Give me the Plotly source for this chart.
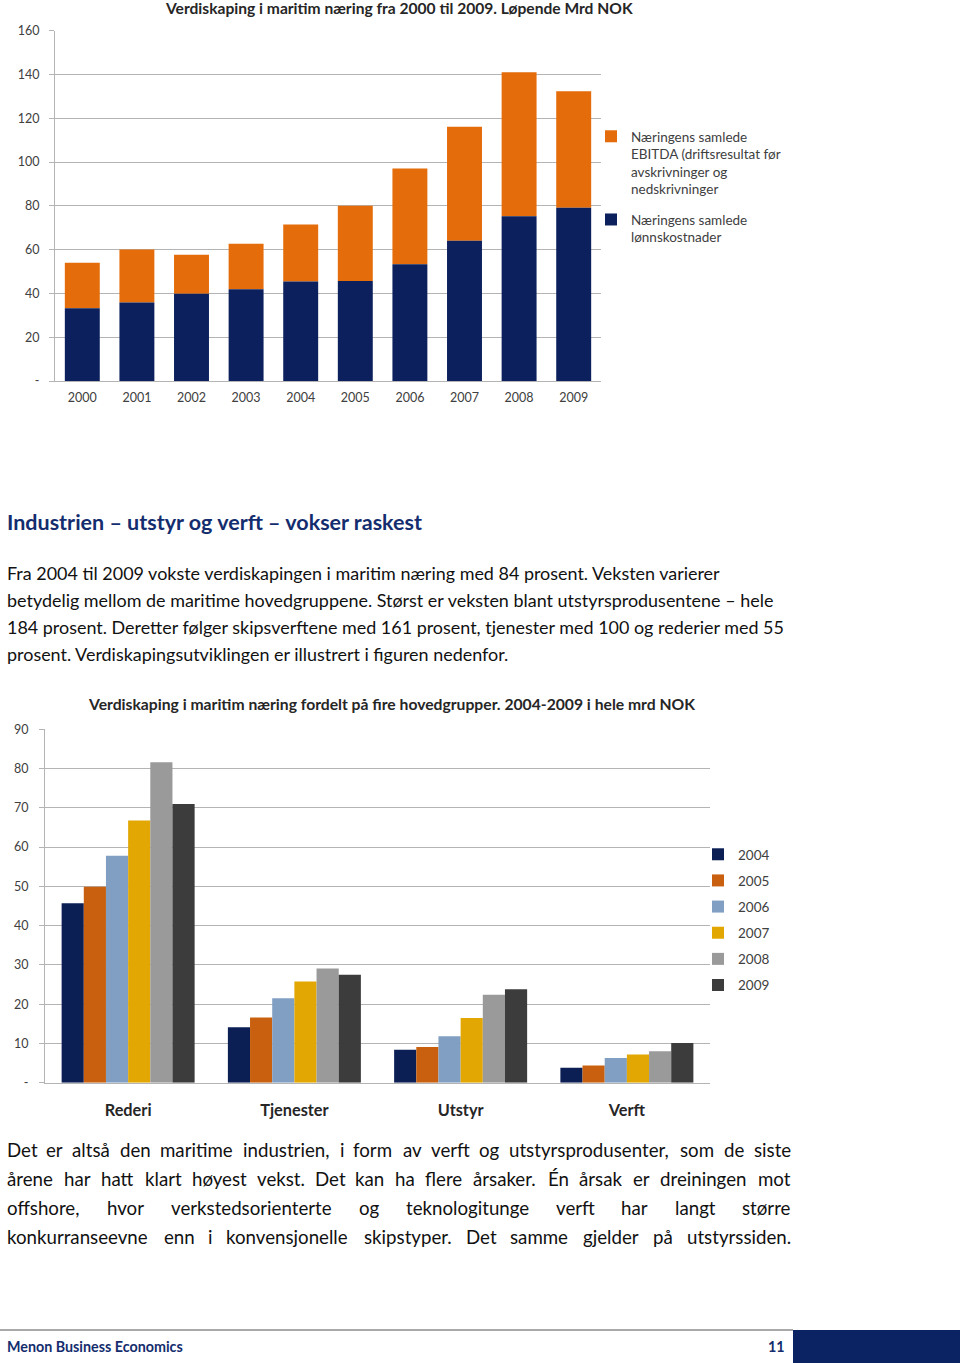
import plotly.graph_objects as go

W, H = 960, 1363
def px(x): return x / W
def py(y): return 1 - y / H

FONT = "Lato, 'Open Sans', sans-serif"

# ---------------- data: top chart ----------------
years = ["2000", "2001", "2002", "2003", "2004", "2005", "2006", "2007", "2008", "2009"]
lonnskostnader = [33.2, 35.8, 39.9, 41.9, 45.4, 45.7, 53.3, 64.1, 75.3, 79.1]
ebitda = [20.8, 24.3, 17.8, 20.8, 26.1, 34.4, 43.8, 52.0, 65.7, 53.2]
top_tickvals = [0, 20, 40, 60, 80, 100, 120, 140, 160]
top_ticktext = ["-", "20", "40", "60", "80", "100", "120", "140", "160"]
name_ebitda = "Næringens samlede<br>EBITDA (driftsresultat før<br>avskrivninger og<br>nedskrivninger"
name_lonn = "Næringens samlede<br>lønnskostnader"

# ---------------- data: bottom chart ----------------
groups = ["Rederi", "Tjenester", "Utstyr", "Verft"]
series_years = ["2004", "2005", "2006", "2007", "2008", "2009"]
v2004 = [45.7, 14.1, 8.4, 3.8]
v2005 = [49.9, 16.6, 9.1, 4.4]
v2006 = [57.8, 21.5, 11.8, 6.3]
v2007 = [66.8, 25.8, 16.5, 7.2]
v2008 = [81.6, 29.1, 22.4, 8.0]
v2009 = [71.0, 27.5, 23.8, 10.1]
bottom_series = [v2004, v2005, v2006, v2007, v2008, v2009]
bot_tickvals = [0, 10, 20, 30, 40, 50, 60, 70, 80, 90]
bot_ticktext = ["-", "10", "20", "30", "40", "50", "60", "70", "80", "90"]

# ---------------- page text ----------------
heading = "Industrien – utstyr og verft – vokser raskest"
para1 = ["Fra 2004 til 2009 vokste verdiskapingen i maritim næring med 84 prosent. Veksten varierer",
         "betydelig mellom de maritime hovedgruppene. Størst er veksten blant utstyrsprodusentene – hele",
         "184 prosent. Deretter følger skipsverftene med 161 prosent, tjenester med 100 og rederier med 55",
         "prosent. Verdiskapingsutviklingen er illustrert i figuren nedenfor."]
para2 = ["Det er altså den maritime industrien, i form av verft og utstyrsprodusenter, som de siste",
         "årene har hatt klart høyest vekst. Det kan ha flere årsaker. Én årsak er dreiningen mot",
         "offshore, hvor verkstedsorienterte og teknologitunge verft har langt større",
         "konkurranseevne enn i konvensjonelle skipstyper. Det samme gjelder på utstyrssiden."]

NAVY = "#0b205c"
ORANGE = "#e46c0a"
bottom_colors = ["#0b1f55", "#c8600f", "#819fc3", "#e2a703", "#9a9a9a", "#3c3c3c"]
GRID = "#b4b4b4"
TICKC = "#404040"

fig = go.Figure()

# top stacked chart (stacking through explicit base); EBITDA listed first in legend
fig.add_trace(go.Bar(x=years, y=ebitda, base=lonnskostnader, name=name_ebitda, marker_color=ORANGE,
                     marker_line_width=0, width=0.64, offset=-0.32,
                     xaxis="x", yaxis="y", legend="legend", legendgroup="a"))
fig.add_trace(go.Bar(x=years, y=lonnskostnader, name=name_lonn, marker_color=NAVY,
                     marker_line_width=0, width=0.64, offset=-0.32,
                     xaxis="x", yaxis="y", legend="legend", legendgroup="b"))

# bottom grouped chart
bw = 0.8 / len(series_years)
for i, (yr, vals) in enumerate(zip(series_years, bottom_series)):
    fig.add_trace(go.Bar(x=groups, y=vals, name=yr, marker_color=bottom_colors[i],
                         marker_line_width=0, width=bw, offset=-0.4 + i * bw,
                         xaxis="x2", yaxis="y2", legend="legend2", legendgroup=yr))

annotations = []
def ann(x, y, text, size, color="#111111", bold=False, xanchor="left"):
    if bold:
        text = "<b>" + text + "</b>"
    if xanchor == "left":
        x -= 2
    elif xanchor == "right":
        x += 2
    annotations.append(dict(x=px(x), y=py(y), xref="paper", yref="paper", text=text,
                            showarrow=False, xanchor=xanchor, yanchor="middle",
                            font=dict(family=FONT, size=size, color=color)))

# chart titles
ann(399, 8, "Verdiskaping i maritim næring fra 2000 til 2009. Løpende Mrd NOK", 15.6, "#262626", True, "center")
ann(391, 704, "Verdiskaping i maritim næring fordelt på fire hovedgrupper. 2004-2009 i hele mrd NOK", 15.7, "#262626", True, "center")

# heading
ann(7, 522, heading, 21.5, "#142d6e", True)

# paragraph 1 (left aligned)
P1_SIZE = 17.95
for i, line in enumerate(para1):
    ann(7, 573 + 27 * i, line, P1_SIZE)

# paragraph 2: justified between x=7 and x=791, words spread with even gaps
LATO_EM = {
    'a': .50, 'b': .56, 'c': .46, 'd': .56, 'e': .52, 'f': .33, 'g': .50, 'h': .55, 'i': .24,
    'j': .24, 'k': .50, 'l': .24, 'm': .83, 'n': .55, 'o': .56, 'p': .55, 'q': .56, 'r': .37,
    's': .42, 't': .35, 'u': .55, 'v': .50, 'w': .77, 'x': .49, 'y': .50, 'z': .45, 'æ': .81,
    'ø': .56, 'å': .50, 'é': .52, 'D': .71, 'É': .56, 'E': .56, 'F': .53, 'S': .50, 'V': .67,
    ' ': .19, '.': .22, ',': .22, '–': .55,
}
for d in "0123456789":
    LATO_EM[d] = .58
def est_em(s):
    return sum(LATO_EM.get(c, .52) for c in s)
# calibration against the rendered widths of paragraph 1 (lines 1 and 3 at 17.8 px)
calib = 0.5 * (39.66 / est_em(para1[0]) + 43.26 / est_em(para1[2]))

P2_SIZE = 18.7
LEFT, RIGHT = 7, 791
for i, line in enumerate(para2):
    words = line.split(" ")
    widths = [est_em(w) * calib * P2_SIZE for w in words]
    gap = (RIGHT - LEFT - sum(widths)) / (len(words) - 1)
    xpos = LEFT
    yline = 1150 + 29 * i
    for j, w in enumerate(words):
        if j == len(words) - 1:
            ann(RIGHT, yline, w, P2_SIZE, xanchor="right")
        else:
            ann(xpos, yline, w, P2_SIZE)
        xpos += widths[j] + gap

# footer
ann(7, 1346, "Menon Business Economics", 14.3, "#142d6e", True)
ann(785, 1346, "11", 14.3, "#142d6e", True, "right")

shapes = [
    dict(type="line", xref="paper", yref="paper", x0=px(0), x1=px(793), y0=py(1330), y1=py(1330),
         line=dict(color="#8c8c8c", width=1.5)),
    dict(type="rect", xref="paper", yref="paper", x0=px(793), x1=px(960), y0=py(1363), y1=py(1330),
         fillcolor="#0b2363", line=dict(width=0)),
]

xcommon = dict(showgrid=False, showline=True, linecolor=GRID, linewidth=1, automargin=False,
               fixedrange=True, ticks="")
ycommon = dict(showgrid=True, gridcolor=GRID, gridwidth=1, showline=True, linecolor=GRID, linewidth=1,
               automargin=False, fixedrange=True, ticks="outside", ticklen=5, tickcolor=GRID,
               zeroline=False, tickfont=dict(family=FONT, size=12.5, color=TICKC))

fig.update_layout(
    width=W, height=H, margin=dict(l=0, r=0, t=0, b=0, autoexpand=False),
    paper_bgcolor="white", plot_bgcolor="white",
    font=dict(family=FONT, color=TICKC),
    showlegend=True,
    xaxis=dict(domain=[px(55), px(601)], anchor="y", **xcommon,
               tickfont=dict(family=FONT, size=12.5, color=TICKC), ticklabelstandoff=5),
    yaxis=dict(domain=[py(381), py(30.7)], anchor="x", range=[0, 160], **ycommon,
               tickvals=top_tickvals, ticktext=top_ticktext, ticklabelstandoff=7),
    xaxis2=dict(domain=[px(45), px(710)], anchor="y2", **xcommon,
                tickfont=dict(family=FONT, size=16.3, color="#262626", weight="bold"),
                ticklabelstandoff=13),
    yaxis2=dict(domain=[py(1082.7), py(729.3)], anchor="x2", range=[0, 90], **ycommon,
                tickvals=bot_tickvals, ticktext=bot_ticktext, ticklabelstandoff=8),
    legend=dict(x=px(591), y=py(121), xanchor="left", yanchor="top", traceorder="grouped",
                tracegroupgap=10, valign="top", bgcolor="rgba(0,0,0,0)",
                font=dict(family=FONT, size=13.5, color=TICKC)),
    legend2=dict(x=px(698), y=py(839), xanchor="left", yanchor="top", traceorder="grouped",
                 tracegroupgap=5.6, bgcolor="rgba(0,0,0,0)",
                 font=dict(family=FONT, size=13.5, color=TICKC)),
    annotations=annotations,
    shapes=shapes,
)

fig.write_html("out.html")
